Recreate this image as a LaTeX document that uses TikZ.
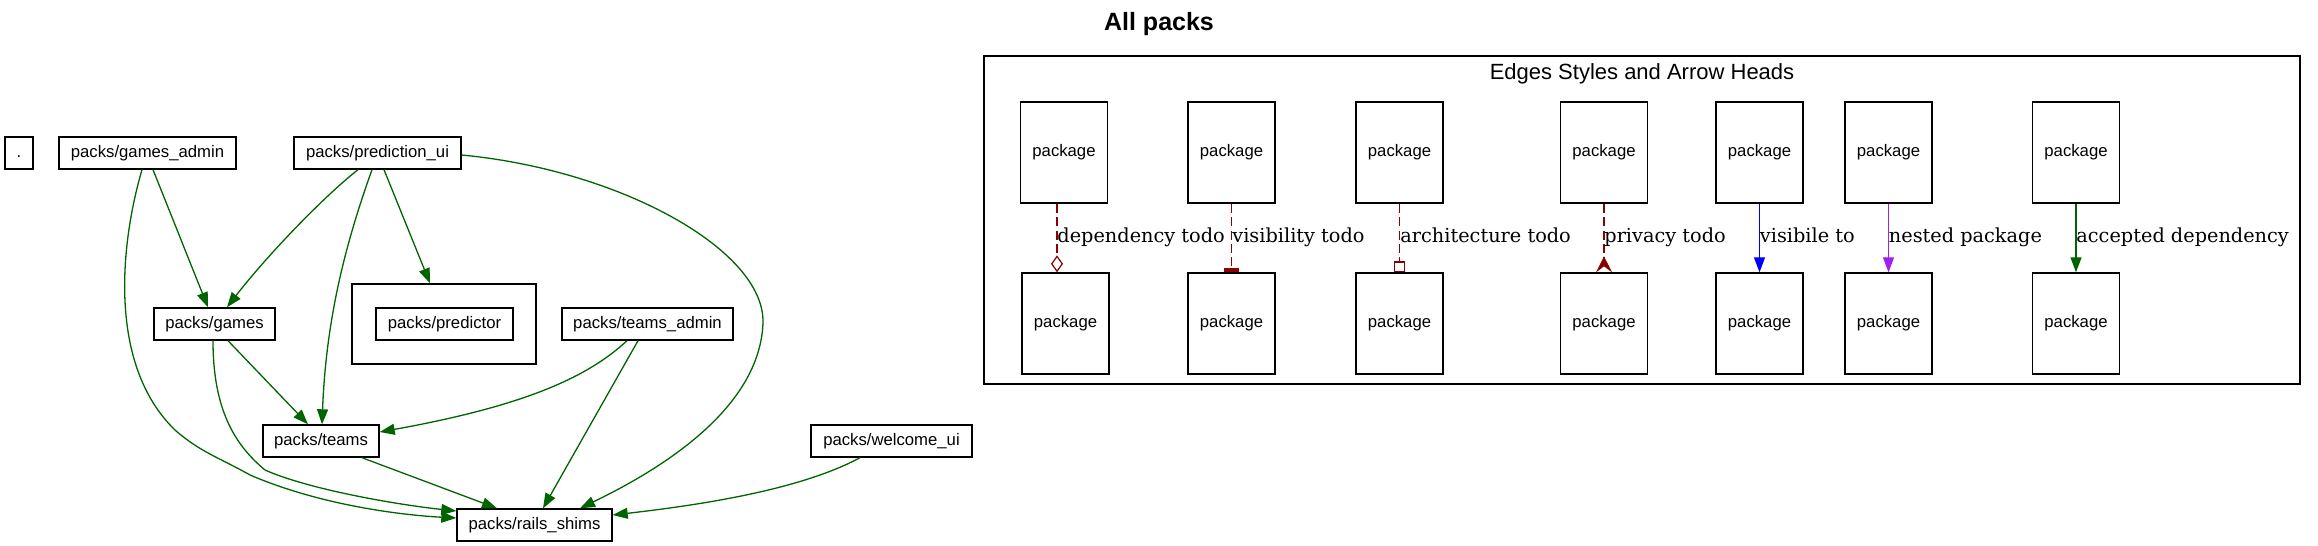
\documentclass[tikz,border=0pt]{standalone}
\usepackage{fontspec}
\setmainfont{Liberation Sans}
\newfontfamily\lblfont{DejaVu Serif}
\usetikzlibrary{arrows.meta,calc}
\definecolor{gvgreen}{HTML}{006400}
\definecolor{gvred}{HTML}{8B0000}
\definecolor{gvpurple}{HTML}{A020F0}
\definecolor{gvblue}{HTML}{0000FF}
\begin{document}
\begin{tikzpicture}[x=0.5pt,y=-0.5pt,
  pk/.style={draw=black, line width=0.7pt, rectangle, inner sep=0pt, minimum height=16pt, text height=6.2pt, text depth=1.8pt, font=\fontsize{8.35}{10}\selectfont},
  lgbox/.style={draw=black, line width=0.7pt, rectangle, inner sep=0pt, minimum width=43.5pt, minimum height=50.5pt, text height=6.2pt, text depth=1.8pt, font=\fontsize{8.35}{10}\selectfont},
  dep/.style={draw=gvgreen, line width=0.65pt, -{Triangle[length=7.5pt,width=5.5pt]}},
  todo/.style={draw=gvred, line width=0.6pt, dash pattern=on 4.5pt off 2.2pt},
  solidarrow/.style={line width=0.65pt, -{Triangle[length=7.5pt,width=5.5pt]}},
  elbl/.style={font=\lblfont\fontsize{9.65}{11}\selectfont, anchor=base west, inner sep=0pt}
]
\useasboundingbox (0,0) rectangle (2318,546);

% title
\node[font=\bfseries\fontsize{12.5}{15}\selectfont, anchor=base, inner sep=0pt] (title) at (1159,31) {All packs};

% main graph nodes
\node[pk, minimum width=14pt] (dot) at (19,153) {.};
\node[pk, minimum width=88.5pt] (ga) at (147.5,153) {packs/games\_admin};
\node[pk, minimum width=83.5pt] (pui) at (377.5,153) {packs/prediction\_ui};
\node[pk, minimum width=60.5pt] (gm) at (214.5,324) {packs/games};
\node[draw=black, line width=0.7pt, rectangle, minimum width=92pt, minimum height=40pt, inner sep=0pt] (cl) at (444,324) {};
\node[pk, minimum width=68.5pt] (pr) at (444.5,324) {packs/predictor};
\node[pk, minimum width=85.5pt] (ta) at (647.5,324) {packs/teams\_admin};
\node[pk, minimum width=58pt] (tm) at (321,441) {packs/teams};
\node[pk, minimum width=77.5pt] (rs) at (534.5,525) {packs/rails\_shims};
\node[pk, minimum width=80.5pt] (wu) at (891.5,441) {packs/welcome\_ui};

% main graph edges
\draw[dep] ($(ga.south)+(-5.5,0)$) .. controls (120,245) and (108,365) .. (175,430)
  .. controls (200,452) and (220,458) .. (250,475)
  .. controls (320,505) and (400,515) .. ($(rs.west)+(0,-7)$);
\draw[dep] ($(gm.south)+(-1.5,0)$) .. controls (213,410) and (235,445) .. (265,470)
  .. controls (310,490) and (400,505) .. ($(rs.west)+(0,-14)$);
\draw[dep] ($(ga.south)+(5.5,0)$) -- ($(gm.north)+(-6.5,0)$);
\draw[dep] ($(pui.south)+(-19.5,0)$) .. controls (322,198) and (265,258) .. ($(gm.north)+(12.5,0)$);
\draw[dep] ($(pui.south)+(-5.5,0)$) .. controls (345,245) and (326,320) .. ($(tm.north)+(1,0)$);
\draw[dep] ($(pui.south)+(6.5,0)$) -- ($(cl.north)+(-14,0)$);
\draw[dep] ($(pui.east)+(0,2)$) .. controls (620,170) and (765,250) .. (763,323)
  .. controls (760,400) and (680,460) .. ($(rs.north)+(45.5,0)$);
\draw[dep] ($(gm.south)+(13.5,0)$) -- ($(tm.north)+(-13,0)$);
\draw[dep] ($(ta.south)+(-20.5,0)$) .. controls (590,375) and (530,405) .. ($(tm.east)+(0,-9)$);
\draw[dep] ($(ta.south)+(-9.5,0)$) -- ($(rs.north)+(8.5,0)$);
\draw[dep] ($(tm.south)+(41,0)$) -- ($(rs.north)+(-37.5,0)$);
\draw[dep] ($(wu.south)+(-31.5,0)$) .. controls (800,490) and (700,505) .. ($(rs.east)+(0,-10)$);

% legend
\node[draw=black, line width=0.7pt, rectangle, minimum width=658pt, minimum height=164pt, inner sep=0pt] (lgf) at (1642,220) {};
\node[font=\fontsize{11}{13}\selectfont, anchor=base, inner sep=0pt] (lgt) at (1642,79) {Edges Styles and Arrow Heads};

\node[lgbox] (t1) at (1064,152.5) {package};
\node[lgbox] (b1) at (1065.5,323.5) {package};
\node[lgbox] (t2) at (1231.5,152.5) {package};
\node[lgbox] (b2) at (1231.5,323.5) {package};
\node[lgbox] (t3) at (1399.5,152.5) {package};
\node[lgbox] (b3) at (1399.5,323.5) {package};
\node[lgbox] (t4) at (1604,152.5) {package};
\node[lgbox] (b4) at (1604,323.5) {package};
\node[lgbox] (t5) at (1759.5,152.5) {package};
\node[lgbox] (b5) at (1759.5,323.5) {package};
\node[lgbox] (t6) at (1888.5,152.5) {package};
\node[lgbox] (b6) at (1888.5,323.5) {package};
\node[lgbox] (t7) at (2076,152.5) {package};
\node[lgbox] (b7) at (2076,323.5) {package};

\draw[todo, -{Diamond[open,length=8.5pt,width=6pt]}] ($(t1.south)+(-7,0)$) -- ($(b1.north)+(-8.5,0)$);
\draw[todo, -{Rectangle[length=2.2pt,width=7.5pt]}] (t2.south) -- (b2.north);
\draw[todo, -{Square[open,length=5.5pt]}] (t3.south) -- (b3.north);
\draw[todo, -{Stealth[reversed,length=8pt,width=8pt,inset=3pt]}] (t4.south) -- (b4.north);
\draw[solidarrow, gvblue] (t5.south) -- (b5.north);
\draw[solidarrow, gvpurple] (t6.south) -- (b6.north);
\draw[solidarrow, gvgreen] (t7.south) -- (b7.north);

\node[elbl] (l1) at (1057,242) {dependency todo};
\node[elbl] (l2) at (1232,242) {visibility todo};
\node[elbl] (l3) at (1400,242) {architecture todo};
\node[elbl] (l4) at (1604,242) {privacy todo};
\node[elbl] (l5) at (1759.5,242) {visibile to};
\node[elbl] (l6) at (1888.5,242) {nested package};
\node[elbl] (l7) at (2076,242) {accepted dependency};
\end{tikzpicture}
\end{document}
